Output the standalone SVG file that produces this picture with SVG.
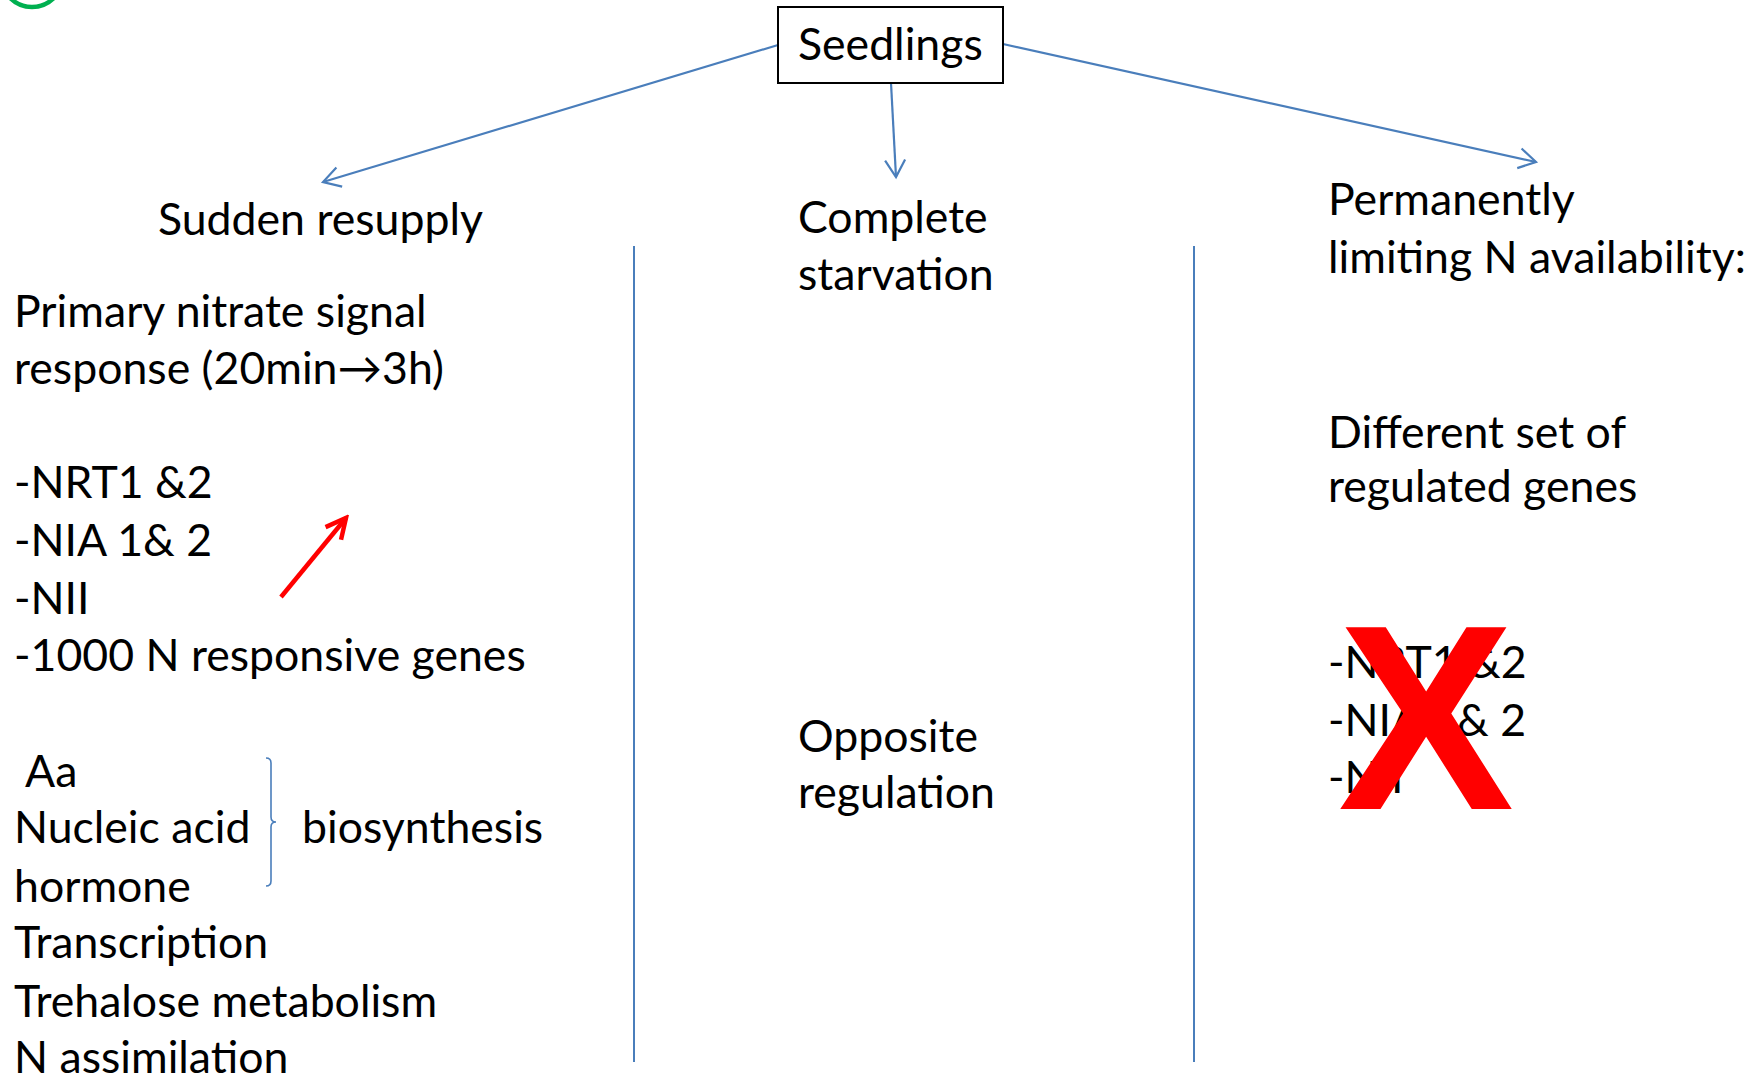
<svg xmlns="http://www.w3.org/2000/svg" width="1762" height="1078" viewBox="0 0 1762 1078">
  <defs>
    <style>
      .t { font-family: Lato, "Open Sans", "Liberation Sans", sans-serif; font-size: 44.6px; fill: #000; }
      .conn { fill: none; stroke: #4A7EBB; stroke-width: 2.2; }
      .divider { fill: none; stroke: #4A7EBB; stroke-width: 2; }
      .box { fill: #fff; stroke: #000; stroke-width: 2; }
    </style>
    <marker id="openHead" viewBox="-20 -12 24 24" refX="0" refY="0" markerWidth="24" markerHeight="24" markerUnits="userSpaceOnUse" orient="auto">
      <path d="M-17,-10 L0,0 L-17,10" fill="none" stroke="#4A7EBB" stroke-width="2.2"/>
    </marker>
    <marker id="redHead" viewBox="-24 -14 28 28" refX="0" refY="0" markerWidth="28" markerHeight="28" markerUnits="userSpaceOnUse" orient="auto">
      <path d="M-20,-10 L0,0 L-20,10" fill="none" stroke="#FF0000" stroke-width="4.5"/>
    </marker>
  </defs>

  <rect width="1762" height="1078" fill="#fff"/>

  <!-- partial green ring in the top-left corner -->
  <circle cx="32" cy="-24" r="31" fill="none" stroke="#00B050" stroke-width="4.5"/>

  <!-- connectors -->
  <g id="connectors">
    <path class="conn" d="M778,45 L323,182" marker-end="url(#openHead)"/>
    <path class="conn" d="M891,83 L896,177" marker-end="url(#openHead)"/>
    <path class="conn" d="M1003,44 L1536,162" marker-end="url(#openHead)"/>
    <path class="divider" d="M634,246 L634,1062"/>
    <path class="divider" d="M1194,246 L1194,1062"/>
  </g>

  <!-- root node -->
  <g id="seedlings">
    <rect class="box" x="778" y="7" width="225" height="76"/>
    <text class="t" x="798" y="60">Seedlings</text>
  </g>

  <!-- left column: sudden resupply -->
  <g id="sudden-resupply">
    <text class="t" x="158" y="235">Sudden resupply</text>
    <text class="t" x="14" y="327">Primary nitrate signal</text>
    <text class="t" x="14" y="384">response (20min→3h)</text>
    <text class="t" x="14" y="498">-NRT1 &amp;2</text>
    <text class="t" x="14" y="556">-NIA 1&amp; 2</text>
    <text class="t" x="14" y="614">-NII</text>
    <text class="t" x="14" y="671">-1000 N responsive genes</text>
    <path d="M281,597 L346,518" fill="none" stroke="#FF0000" stroke-width="4.5" marker-end="url(#redHead)"/>
    <text class="t" x="25" y="787">Aa</text>
    <text class="t" x="14" y="843">Nucleic acid</text>
    <text class="t" x="14" y="902">hormone</text>
    <text class="t" x="14" y="958">Transcription</text>
    <text class="t" x="14" y="1017">Trehalose metabolism</text>
    <text class="t" x="14" y="1073">N assimilation</text>
    <path d="M266,758 Q271,758 271,763 L271,817 Q271,822 276,822 Q271,822 271,827 L271,881 Q271,886 266,886" fill="none" stroke="#4A7EBB" stroke-width="1.6"/>
    <text class="t" x="302" y="843">biosynthesis</text>
  </g>

  <!-- middle column: complete starvation -->
  <g id="complete-starvation">
    <text class="t" x="798" y="233">Complete</text>
    <text class="t" x="798" y="290">starvation</text>
    <text class="t" x="798" y="752">Opposite</text>
    <text class="t" x="798" y="808">regulation</text>
  </g>

  <!-- right column: permanently limiting N -->
  <g id="permanently-limiting">
    <text class="t" x="1328" y="215">Permanently</text>
    <text class="t" x="1328" y="273">limiting N availability:</text>
    <text class="t" x="1328" y="448">Different set of</text>
    <text class="t" x="1328" y="502">regulated genes</text>
    <text class="t" x="1328" y="678">-NRT1 &amp;2</text>
    <text class="t" x="1328" y="736">-NIA 1&amp; 2</text>
    <text class="t" x="1328" y="793">-NII</text>
    <text x="1426" y="809" text-anchor="middle" font-family="Liberation Sans, Arial, sans-serif" font-weight="bold" font-size="264" fill="#FF0000">X</text>
  </g>
</svg>
